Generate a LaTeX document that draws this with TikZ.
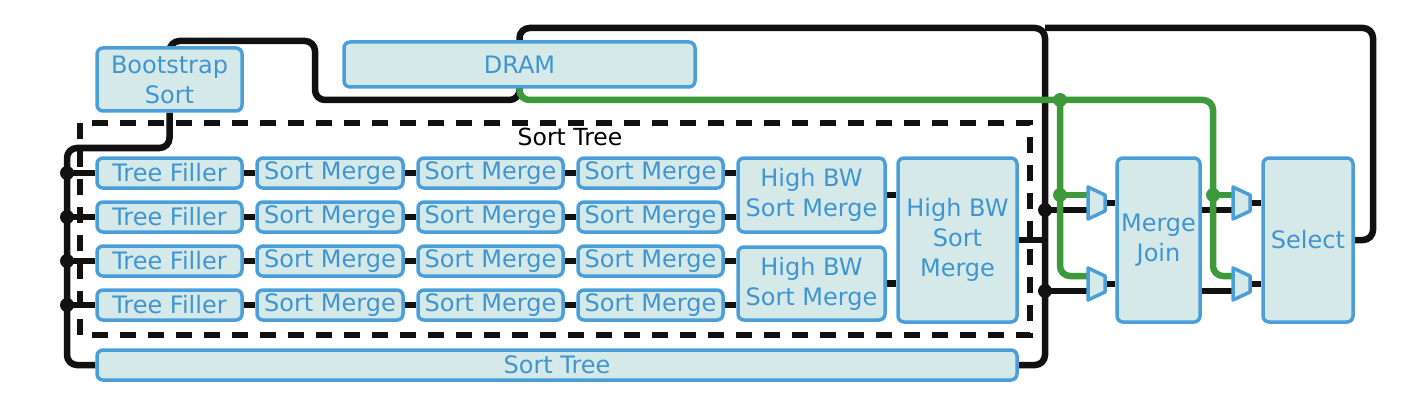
\documentclass[tikz,border=0pt]{standalone}
\usepackage{fontspec}
\setmainfont{DejaVu Sans}
\usetikzlibrary{backgrounds}
\definecolor{boxfill}{HTML}{D6E9E9}
\definecolor{boxline}{HTML}{4A9FDA}
\definecolor{boxtext}{HTML}{3F95D2}
\definecolor{wire}{HTML}{111111}
\definecolor{gwire}{HTML}{3C9A3A}
\tikzset{
  blk/.style={rounded corners=6pt, draw=boxline, fill=boxfill, line width=3.5pt, text=boxtext,
    font=\fontsize{24}{30}\selectfont, align=center, inner sep=0pt},
  bw/.style={draw=wire, line width=6.5pt, rounded corners=10pt},
  gw/.style={draw=gwire, line width=6.5pt, rounded corners=10pt},
  dot/.style={circle, fill=wire, inner sep=0pt, minimum size=14pt},
  gdot/.style={circle, fill=gwire, inner sep=0pt, minimum size=14pt},
  muxshape/.style={draw=boxline, fill=boxfill, line width=3.5pt, line join=round},
  dashbox/.style={draw=wire, line width=5.5pt, dash pattern=on 16pt off 12pt}
}
\begin{document}
\begin{tikzpicture}[x=1pt,y=-1pt]
\useasboundingbox (0,0) rectangle (1413,401);
% boxes
\node[blk, minimum width=145pt, minimum height=63pt] (bs) at (169.5,79.5) {Bootstrap\\Sort};
\node[blk, minimum width=351pt, minimum height=45pt] (dram) at (519.5,64.5) {DRAM};
\foreach \r/\yy in {1/173,2/217,3/261,4/305}{
  \node[blk, minimum width=145pt, minimum height=30pt] (tf\r) at (169.5,\yy) {Tree Filler};
  \node[blk, minimum width=146pt, minimum height=30pt] (sa\r) at (330,\yy) {Sort Merge};
  \node[blk, minimum width=145pt, minimum height=30pt] (sb\r) at (490.5,\yy) {Sort Merge};
  \node[blk, minimum width=145pt, minimum height=30pt] (sc\r) at (650.5,\yy) {Sort Merge};
}
\node[blk, minimum width=147pt, minimum height=74pt] (hb1) at (811.5,195) {High BW\\Sort Merge};
\node[blk, minimum width=147pt, minimum height=73pt] (hb2) at (811.5,283.5) {High BW\\Sort Merge};
\node[blk, minimum width=119pt, minimum height=164pt] (hbb) at (957.5,240) {High BW\\Sort\\Merge};
\node[blk, minimum width=83pt, minimum height=164pt] (mj) at (1158.5,240) {Merge\\Join};
\node[blk, minimum width=90pt, minimum height=164pt] (sel) at (1308,240) {Select};
\node[blk, minimum width=920pt, minimum height=30pt] (st) at (557,365) {Sort Tree};
\node[font=\fontsize{23.5}{28}\selectfont, text=black, inner sep=0pt] (stlabel) at (570,137) {Sort Tree};

% mux coordinates
\foreach \m/\L/\C in {ma/1088/203, mb/1088/284, mc/1233/203, md/1233/284}{
  \coordinate (\m-g) at (\L,\C-8);
  \coordinate (\m-k) at (\L,\C+7);
  \coordinate (\m-o) at (\L+17,\C);
  \draw[muxshape] (\L,\C-16) -- (\L+17,\C-8) -- (\L+17,\C+8) -- (\L,\C+16) -- cycle;
}

\coordinate (busL) at (67,148);
\coordinate (busR) at (1045,28);
\coordinate (gbus) at (1060,100);
\coordinate (gbus2) at (1213,100);
\coordinate (ja) at (busR |- ma-k);
\coordinate (jb) at (busR |- mb-k);

\begin{pgfonlayer}{background}
% dashed sort tree frame
\draw[dashbox] (80,123) rectangle (1030,335);
% row connectors
\foreach \r in {1,2,3,4}{
  \draw[bw] (tf\r.east) -- (sa\r.west);
  \draw[bw] (sa\r.east) -- (sb\r.west);
  \draw[bw] (sb\r.east) -- (sc\r.west);
  \draw[bw] (busL |- tf\r.west) -- (tf\r.west);
}
\draw[bw] (sc1.east) -- (sc1.east -| hb1.west);
\draw[bw] (sc2.east) -- (sc2.east -| hb1.west);
\draw[bw] (sc3.east) -- (sc3.east -| hb2.west);
\draw[bw] (sc4.east) -- (sc4.east -| hb2.west);
\draw[bw] (hb1.east) -- (hb1.east -| hbb.west);
\draw[bw] (hb2.east) -- (hb2.east -| hbb.west);
% left bus
\draw[bw] (bs.south) -- (bs.south |- busL) -- (busL) -- (67,365) -- (st.west);
% top bus
\draw[bw] (bs.north) -- (169.5,41) -- (315,41) -- (315,100) -- (519.5,100) -- (519.5,28) -- (busR) -- (1045,365) -- (st.east);
\draw[bw] (hbb.east) -- (1045,240);
\draw[bw] (sel.east) -- (1373,240) -- (1373,28) -- (busR);
% muxes inputs/outputs
\draw[bw] (ja) -- (ma-k);
\draw[bw] (jb) -- (mb-k);
\draw[bw] (ma-o) -- (ma-o -| mj.west);
\draw[bw] (mb-o) -- (mb-o -| mj.west);
\draw[bw] (mj.east |- mc-k) -- (mc-k);
\draw[bw] (mj.east |- md-k) -- (md-k);
\draw[bw] (mc-o) -- (mc-o -| sel.west);
\draw[bw] (md-o) -- (md-o -| sel.west);
% green
\draw[gw] (dram.south) |- (gbus2) -- (1213,276) -- (md-g);
\draw[gw] (gbus) -- (1060,276) -- (mb-g);
\draw[gw] (1060,195) -- (ma-g);
\draw[gw] (1213,195) -- (mc-g);
\end{pgfonlayer}
% dots
\foreach \r in {1,2,3,4}{ \node[dot] at (busL |- tf\r.west) {}; }
\node[dot] at (ja) {};
\node[dot] at (jb) {};
\node[gdot] at (gbus) {};
\node[gdot] at (1060,195) {};
\node[gdot] at (1213,195) {};
\end{tikzpicture}
\end{document}
